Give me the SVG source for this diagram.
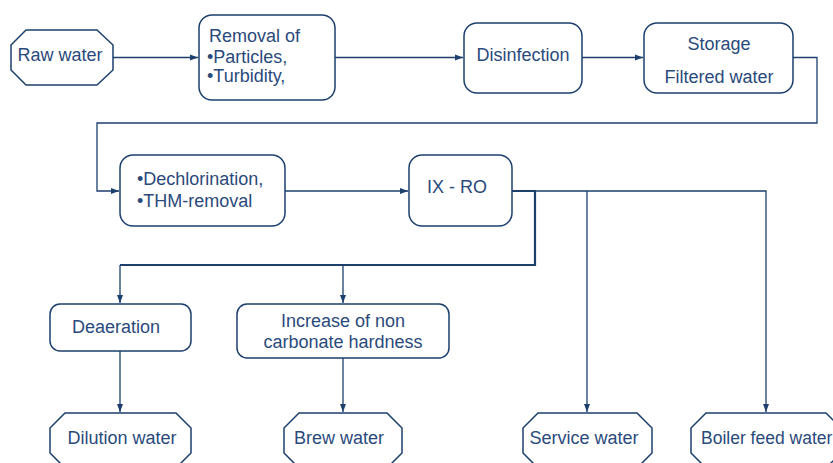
<svg xmlns="http://www.w3.org/2000/svg" width="833" height="463" viewBox="0 0 833 463">
<style>
.box{fill:#fff;stroke:#1d3f6e;stroke-width:1.5}
.t{font-family:"Liberation Sans",Arial,sans-serif;font-size:18px;fill:#2a4a7b}
.c{text-anchor:middle}
.ln{fill:none;stroke:#1d3f6e;stroke-width:1.3}
.thick{fill:none;stroke:#1d3f6e;stroke-width:2.2}
</style>
<defs>
<marker id="ah" markerUnits="userSpaceOnUse" markerWidth="8" markerHeight="8" viewBox="0 0 8 8" refX="8" refY="4" orient="auto">
<path d="M0,1 L8,4 L0,7 Z" fill="#1d3f6e"/>
</marker>
</defs>
<rect width="833" height="463" fill="#fff"/>
<g id="connectors">
<path class="ln" d="M113,57.5 H198" marker-end="url(#ah)"/>
<path class="ln" d="M335,57.5 H463" marker-end="url(#ah)"/>
<path class="ln" d="M582,57.5 H643" marker-end="url(#ah)"/>
<path class="ln" d="M793,57.5 H817 V123 H97 V191 H119" marker-end="url(#ah)"/>
<path class="ln" d="M285,191 H408" marker-end="url(#ah)"/>
<path class="thick" d="M512,191 H535 V265 H120"/>
<path class="ln" d="M535,191 H766 V412" marker-end="url(#ah)"/>
<path class="ln" d="M587,191 V412" marker-end="url(#ah)"/>
<path class="ln" d="M120,265 V303" marker-end="url(#ah)"/>
<path class="ln" d="M343,265 V303" marker-end="url(#ah)"/>
<path class="ln" d="M120,351 V412" marker-end="url(#ah)"/>
<path class="ln" d="M343,358 V412" marker-end="url(#ah)"/>
</g>
<g id="raw-water">
<polygon class="box" points="26,30 97,30 113,45 113,70 97,85 26,85 11,70 11,45"/>
<text class="t" x="60" y="61" text-anchor="middle">Raw water</text>
</g>
<g id="removal">
<rect class="box" x="199" y="15" width="136" height="85" rx="13"/>
<text class="t" x="209" y="42">Removal of</text>
<text class="t" x="207" y="63">•Particles,</text>
<text class="t" x="207" y="82">•Turbidity,</text>
</g>
<g id="disinfection">
<rect class="box" x="464" y="23" width="118" height="70" rx="13"/>
<text class="t c" x="523" y="61">Disinfection</text>
</g>
<g id="storage">
<rect class="box" x="644" y="23" width="149" height="70" rx="13"/>
<text class="t c" x="719" y="50">Storage</text>
<text class="t c" x="719" y="83">Filtered water</text>
</g>
<g id="dechlorination">
<rect class="box" x="120" y="155" width="165" height="71" rx="13"/>
<text class="t" x="137" y="185">•Dechlorination,</text>
<text class="t" x="137" y="207">•THM-removal</text>
</g>
<g id="ix-ro">
<rect class="box" x="409" y="155" width="103" height="71" rx="13"/>
<text class="t c" x="457" y="193">IX - RO</text>
</g>
<g id="deaeration">
<rect class="box" x="50" y="304" width="141" height="47" rx="10"/>
<text class="t c" x="116" y="333">Deaeration</text>
</g>
<g id="increase">
<rect class="box" x="237" y="304" width="212" height="54" rx="10"/>
<text class="t c" x="343" y="327">Increase of non</text>
<text class="t c" x="343" y="348">carbonate hardness</text>
</g>
<g id="dilution-water">
<polygon class="box" points="65,413 176,413 191,428 191,453 176,468 65,468 50,453 50,428"/>
<text class="t c" x="122" y="444">Dilution water</text>
</g>
<g id="brew-water">
<polygon class="box" points="299,413 387,413 402,428 402,453 387,468 299,468 284,453 284,428"/>
<text class="t c" x="339" y="444">Brew water</text>
</g>
<g id="service-water">
<polygon class="box" points="538,413 637,413 652,428 652,453 637,468 538,468 523,453 523,428"/>
<text class="t c" x="584" y="444">Service water</text>
</g>
<g id="boiler-feed-water">
<polygon class="box" points="706,413 826,413 841,428 841,453 826,468 706,468 691,453 691,428"/>
<text class="t" x="701" y="444" style="font-size:17.5px">Boiler feed water</text>
</g>
</svg>
